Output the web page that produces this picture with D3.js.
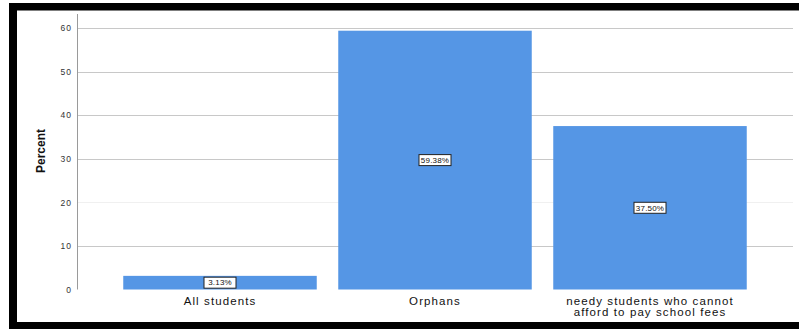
<!DOCTYPE html>
<html>
<head>
<meta charset="utf-8">
<script src="https://cdn.jsdelivr.net/npm/d3@7"></script>
<style>
  html, body { margin: 0; padding: 0; background: #fff; }
  svg { display: block; font-family: "Liberation Sans", Arial, sans-serif; }
</style>
</head>
<body>
<svg id="chart" width="799" height="331"></svg>
<script>
// Who receives support: percent of cases per category
const categories = ["All students", "Orphans", "needy students who cannot afford to pay school fees"];
const categoryLines = [["All students"], ["Orphans"], ["needy students who cannot", "afford to pay school fees"]];
const percents = [3.13, 59.38, 37.50];
const yTicks = [0, 10, 20, 30, 40, 50, 60];

const svg = d3.select("#chart");

// outer frame
svg.append("rect").attr("x", 9).attr("y", 3).attr("width", 790).attr("height", 7.5).attr("fill", "#000");
svg.append("rect").attr("x", 9).attr("y", 3).attr("width", 8).attr("height", 326).attr("fill", "#000");
svg.append("rect").attr("x", 9).attr("y", 322).attr("width", 790).attr("height", 7).attr("fill", "#000");

const axisX = 77;
const gridEnd = 793;

const y = d3.scaleLinear().domain([0, 60]).range([289.5, 28]);
const x = d3.scaleBand()
  .domain(categories)
  .range([112.5, 757.5])
  .paddingInner(0.1)
  .paddingOuter(0.05);

// horizontal grid lines
svg.append("g")
  .selectAll("line")
  .data(yTicks.filter(d => d > 0))
  .join("line")
  .attr("x1", axisX).attr("x2", gridEnd)
  .attr("y1", d => Math.round(y(d)) + 0.5).attr("y2", d => Math.round(y(d)) + 0.5)
  .attr("stroke", d => d === 20 ? "#f0f0f0" : "#c8c8c8")
  .attr("stroke-width", 1);

// y axis with labels only
const yAxis = d3.axisLeft(y).tickValues(yTicks).tickSize(0).tickPadding(5);
const gy = svg.append("g").attr("transform", `translate(${axisX},0)`).call(yAxis);
gy.select(".domain").remove();
gy.selectAll("text").attr("font-size", 8.5).attr("fill", "#333")
  .attr("letter-spacing", 1)
  .attr("font-family", "'Liberation Sans', Arial, sans-serif");
svg.append("line")
  .attr("x1", axisX + 0.5).attr("x2", axisX + 0.5)
  .attr("y1", 14).attr("y2", y(0))
  .attr("stroke", "#9a9a9a").attr("stroke-width", 1);

// axis title
svg.append("text")
  .attr("transform", `translate(45,151) rotate(-90)`)
  .attr("text-anchor", "middle")
  .attr("font-size", 12)
  .attr("font-weight", "bold")
  .attr("fill", "#111")
  .text("Percent");

// bars
svg.append("g")
  .selectAll("rect")
  .data(percents)
  .join("rect")
  .attr("x", (d, i) => x(categories[i]))
  .attr("width", x.bandwidth())
  .attr("y", d => y(d))
  .attr("height", d => y(0) - y(d))
  .attr("fill", "#5596e5");

// value labels in boxes
const lab = svg.append("g")
  .selectAll("g")
  .data(percents)
  .join("g")
  .attr("transform", (d, i) => `translate(${x(categories[i]) + x.bandwidth() / 2},${(y(d) + y(0)) / 2})`);
lab.append("rect")
  .attr("x", -16).attr("y", -5.5).attr("width", 32).attr("height", 11)
  .attr("fill", "#fff").attr("stroke", "#222").attr("stroke-width", 1);
lab.append("text")
  .attr("text-anchor", "middle").attr("dy", "0.35em")
  .attr("font-size", 8).attr("letter-spacing", 0.2).attr("fill", "#111")
  .text(d => d.toFixed(2) + "%");

// category labels
const cat = svg.append("g")
  .selectAll("text")
  .data(categories)
  .join("text")
  .attr("x", d => x(d) + x.bandwidth() / 2)
  .attr("y", 305)
  .attr("text-anchor", "middle")
  .attr("font-size", 11.5)
  .attr("letter-spacing", 1.1)
  .attr("fill", "#111");
cat.selectAll("tspan")
  .data((d, i) => categoryLines[i])
  .join("tspan")
  .attr("x", function () { return d3.select(this.parentNode).attr("x"); })
  .attr("dy", (d, i) => i === 0 ? 0 : 11)
  .text(d => d);
</script>
</body>
</html>
